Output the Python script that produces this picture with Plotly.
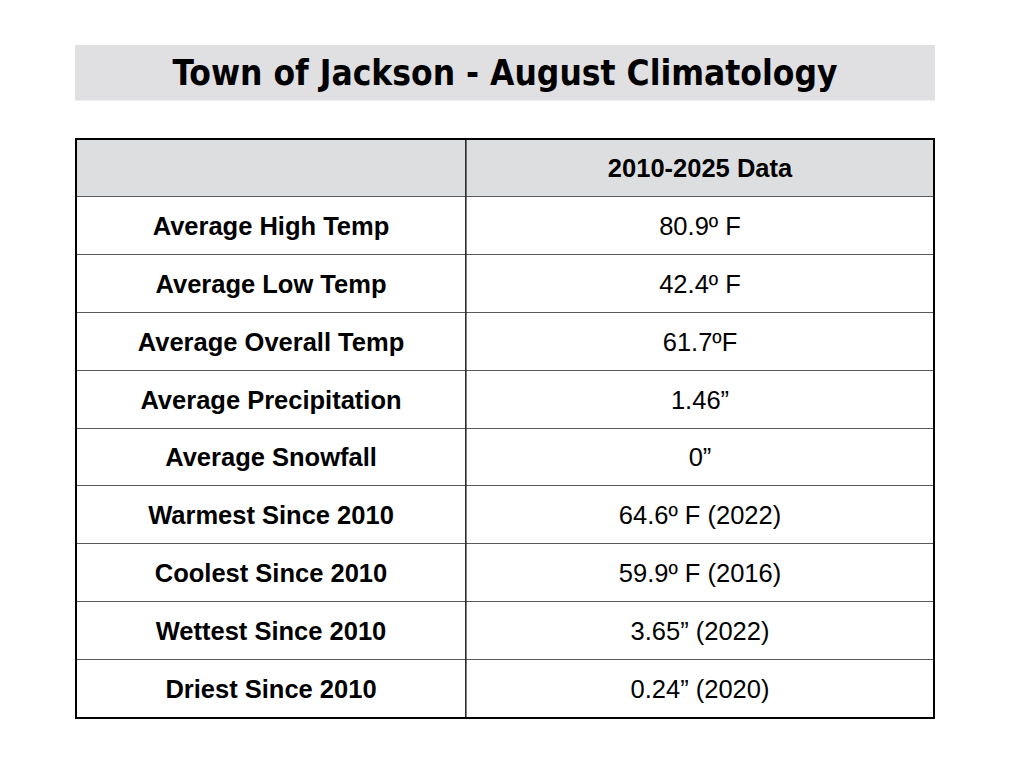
import plotly.graph_objects as go

# данные таблицы
title_text = "Town of Jackson - August Climatology"
header_labels = ["", "2010-2025 Data"]
metrics = [
    "Average High Temp", "Average Low Temp", "Average Overall Temp",
    "Average Precipitation", "Average Snowfall", "Warmest Since 2010",
    "Coolest Since 2010", "Wettest Since 2010", "Driest Since 2010",
]
values = [
    "80.9º F", "42.4º F", "61.7ºF", "1.46”", "0”",
    "64.6º F (2022)", "59.9º F (2016)", "3.65” (2022)", "0.24” (2020)",
]

# страница добавляет отступ 8px, поэтому фигура чуть меньше окна
PAD = 8
W, H = 1024 - PAD, 768 - PAD


def px_x(v):
    return (v - PAD) / W


def px_y(v):
    return 1 - (v - PAD) / H


n_rows = len(metrics) + 1
col_edges = [0, 390, 858]          # ширины колонок в пикселях
row_edges = list(range(n_rows + 1))

cell_text = [["<b>%s</b>" % header_labels[0], "<b>%s</b>" % header_labels[1]]]
cell_text += [["<b>%s</b>" % m, v] for m, v in zip(metrics, values)]
fill_z = [[1, 1]] + [[0, 0] for _ in metrics]

fig = go.Figure(go.Heatmap(
    x=col_edges,
    y=row_edges,
    z=fill_z,
    zmin=0, zmax=1,
    colorscale=[[0, "white"], [1, "#dddee0"]],
    showscale=False,
    xgap=1, ygap=1,
    text=cell_text,
    texttemplate="%{text}",
    textfont=dict(family="Liberation Sans, Arial, sans-serif", size=25.5, color="black"),
    hoverinfo="skip",
))

axis_style = dict(showgrid=False, zeroline=False, showticklabels=False,
                  ticks="", showline=False, fixedrange=True)

fig.update_layout(
    width=W, height=H,
    margin=dict(l=0, r=0, t=0, b=0),
    paper_bgcolor="white",
    plot_bgcolor="#5a5a5a",
    xaxis=dict(domain=[px_x(76), px_x(934)], range=[0, col_edges[-1]], **axis_style),
    yaxis=dict(domain=[px_y(718), px_y(139)], range=[n_rows, 0], **axis_style),
    title=dict(
        text="<b>%s</b>" % title_text,
        x=px_x(505), xanchor="center",
        y=px_y(73), yanchor="middle",
        font=dict(family="DejaVu Sans Condensed, sans-serif", size=35, color="black"),
    ),
    shapes=[
        # серая плашка под заголовком
        dict(type="rect", xref="paper", yref="paper", layer="below",
             x0=px_x(75), x1=px_x(935), y0=px_y(100.5), y1=px_y(45),
             fillcolor="#e0e0e2", line=dict(width=0)),
        # вертикальный разделитель колонок
        dict(type="line", xref="x", yref="paper", layer="above",
             x0=col_edges[1], x1=col_edges[1], y0=px_y(718), y1=px_y(139),
             line=dict(color="black", width=1)),
        # внешняя рамка таблицы
        dict(type="rect", xref="paper", yref="paper", layer="above",
             x0=px_x(76), x1=px_x(934), y0=px_y(718), y1=px_y(139),
             line=dict(color="black", width=2)),
    ],
)

fig.write_html("out.html")
